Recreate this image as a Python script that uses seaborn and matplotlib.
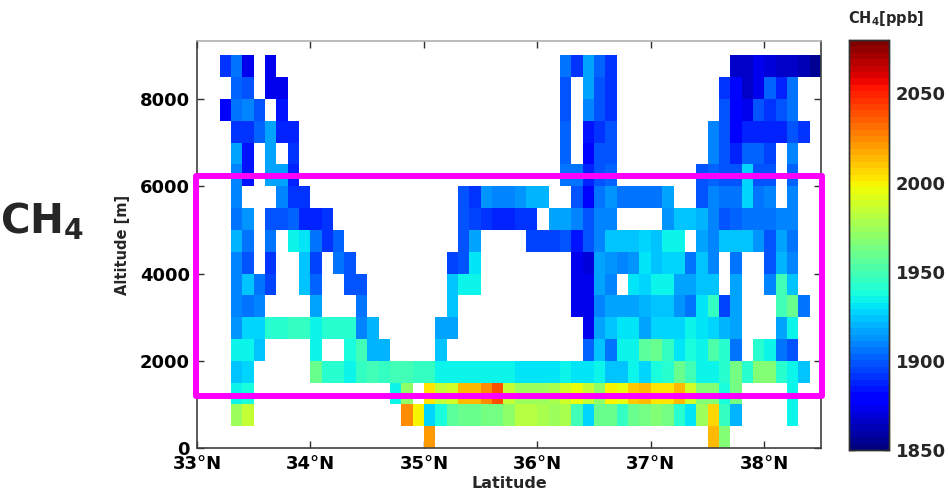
import numpy as np
import pandas as pd
import matplotlib
matplotlib.use("Agg")
import matplotlib.pyplot as plt
from matplotlib.patches import Rectangle
import seaborn as sns

N = np.nan


def row(start_lat, values):
    # pad one altitude bin out to the full 33.0-38.4 latitude range
    first = int(round((start_lat - 33.0) * 10))
    return [N] * first + values + [N] * (55 - first - len(values))


# CH4 in ppb, one list per 500 m altitude bin
ch4_8500 = row(33.2, [1892, 1904, 1875, N, 1875, N, N, N, N, N, N, N, N, N, N, N, N, N, N, N, N, N, N, N, N, N, N, N, N, N,
                      1904, 1890, 1916, 1901, 1893, N, N, N, N, N, N, N, N, N, N, 1866, 1865, 1874, 1869, 1866, 1866, 1863, 1857])
ch4_8000 = row(33.3, [1901, 1897, N, 1875, 1875, N, N, N, N, N, N, N, N, N, N, N, N, N, N, N, N, N, N, N, N, N, N, N, N,
                      1900, N, 1915, 1897, 1890, N, N, N, N, N, N, N, N, N, 1890, 1881, 1866, 1875, 1903, 1889, 1904])
ch4_7500 = row(33.2, [1878, 1904, 1908, 1898, N, 1884, N, N, N, N, N, N, N, N, N, N, N, N, N, N, N, N, N, N, N, N, N, N, N, N,
                      1897, N, 1910, 1897, 1892, N, N, N, N, N, N, N, N, N, 1900, 1876, 1875, 1897, 1890, 1898, 1904])
ch4_7000 = row(33.3, [1892, 1892, 1901, 1916, 1888, 1888, N, N, N, N, N, N, N, N, N, N, N, N, N, N, N, N, N, N, N, N, N, N, N,
                      1901, N, 1884, 1892, 1899, N, N, N, N, N, N, N, N, 1908, 1899, 1878, 1886, 1886, 1889, 1889, 1899, 1891])
ch4_6500 = row(33.3, [1916, 1885, N, 1916, N, 1890, N, N, N, N, N, N, N, N, N, N, N, N, N, N, N, N, N, N, N, N, N, N, N,
                      1901, N, 1881, 1899, 1899, N, N, N, N, N, N, N, N, 1911, 1897, 1886, 1901, 1901, 1895, N, 1908])
ch4_6000 = row(33.3, [1910, 1885, N, 1916, 1916, 1888, N, N, N, N, N, N, N, N, N, N, N, N, N, N, N, N, N, N, N, N, N, N, N,
                      1904, 1904, 1889, 1897, 1903, N, N, N, N, N, N, N, 1899, 1902, 1899, 1899, 1928, 1899, 1899, N, 1903])
ch4_5500 = row(33.3, [1908, N, N, N, 1908, 1892, 1892, N, N, N, N, N, N, N, N, N, N, N, N, N, 1899, 1893, 1913, 1909, 1909, 1913, 1919, 1919, N, N,
                      1900, 1881, 1905, 1912, 1907, 1907, 1907, 1907, 1915, N, N, 1899, 1908, 1905, 1905, 1927, 1904, 1910, N, 1908])
ch4_5000 = row(33.3, [1906, 1912, N, 1897, 1897, 1901, 1889, 1889, 1890, N, N, N, N, N, N, N, N, N, N, N, 1899, 1895, 1892, 1888, 1888, 1892, 1890, N, 1918, 1915,
                      1911, 1899, 1910, 1910, N, N, N, N, 1913, 1923, 1923, 1919, 1908, 1898, 1901, 1904, 1904, 1904, 1911, 1908])
ch4_4500 = row(33.3, [1919, 1904, N, 1904, N, 1936, 1932, 1905, 1892, 1901, N, N, N, N, N, N, N, N, N, N, 1900, 1915, N, N, N, N, 1896, 1896, 1896, 1899,
                      1885, 1900, 1910, 1923, 1924, 1924, 1927, 1924, 1933, 1936, N, 1916, 1910, 1922, 1922, 1922, 1913, 1898, 1915, 1907])
ch4_4000 = row(33.3, [1910, 1898, N, 1890, N, N, 1925, 1895, N, 1904, 1898, N, N, N, N, N, N, N, N, 1895, 1899, 1930, N, N, N, N, N, N, N, N,
                      1875, 1871, 1917, 1913, 1910, 1912, 1932, 1922, 1926, 1926, 1904, 1925, 1911, N, 1904, N, N, 1897, 1920, 1911])
ch4_3500 = row(33.3, [1908, 1925, 1904, 1895, N, N, 1925, 1903, N, N, 1897, 1897, N, N, N, N, N, N, N, 1925, 1935, 1935, N, N, N, N, N, N, N, N,
                      1875, 1875, 1918, 1910, N, 1930, 1926, 1936, 1936, 1918, 1915, 1923, 1923, N, 1915, N, N, 1910, 1950, 1925])
ch4_3000 = row(33.3, [1908, 1906, 1910, N, N, N, N, 1917, N, N, N, 1907, N, N, N, N, N, N, N, 1923, N, N, N, N, N, N, N, N, N, N,
                      1875, 1875, 1911, 1917, 1918, 1918, 1920, 1923, 1923, 1913, 1904, 1930, 1946, 1894, 1916, N, N, N, 1950, 1960, 1904])
ch4_2500 = row(33.3, [1912, 1928, 1928, 1940, 1940, 1944, 1944, 1935, 1942, 1940, 1940, 1910, 1919, N, N, N, N, N, 1917, 1917, N, N, N, N, N, N, N, N, N, N,
                      N, 1875, 1918, 1925, 1932, 1932, 1915, 1929, 1926, 1926, 1936, 1931, 1927, 1919, 1916, N, N, N, 1917, 1933])
ch4_2000 = row(33.3, [1933, 1933, 1925, N, N, N, N, 1933, N, N, 1938, 1950, 1920, 1920, N, N, N, N, 1925, N, N, N, N, N, N, N, N, N, N, N,
                      N, 1903, 1922, 1907, 1935, 1934, 1955, 1958, 1945, 1931, 1938, 1936, 1952, 1940, 1907, N, 1942, 1933, 1906, 1897])
ch4_1500 = row(33.3, [1925, 1927, N, N, N, N, N, 1958, 1940, 1940, 1934, 1944, 1950, 1945, 1950, 1950, 1947, 1947, 1935, 1933, 1935, 1935, 1935, 1935, 1933, 1930, 1930, 1930, 1930, 1933,
                      1931, 1931, 1933, 1923, 1925, 1934, 1926, 1938, 1940, 1958, 1950, 1933, 1933, 1940, 1962, 1940, 1965, 1965, 1942, 1935, 1923])
ch4_1000 = row(33.3, [1933, 1938, N, N, N, N, N, N, N, N, N, N, N, N, 1933, 1972, N, 2003, 1985, 1988, 2012, 2012, 2023, 2040, 1985, 1975, 1975, 1975, 1978, 1988,
                      1997, 1985, 1969, 1998, 1997, 2010, 2012, 2003, 2003, 2015, 1990, 1968, 1968, 1938, 1964, N, N, N, N, 1933])
ch4_0500 = row(33.3, [1975, 1985, N, N, N, N, N, N, N, N, N, N, N, N, N, 2025, 2000, 1928, 1937, 1955, 1961, 1961, 1964, 1964, 1972, 1981, 1981, 1978, 1974, 1978,
                      1950, 1926, 1961, 1961, 1945, 1958, 1964, 1968, 1964, 1940, 1931, 1975, 2006, 1945, 1919, N, N, N, N, 1933])
ch4_0000 = row(35.0, [2020, N, N, N, N, N, N, N, N, N, N, N, N, N, N, N, N, N, N, N, N, N, N, N, N, 2015, 1968])

ch4_rows = [ch4_0000, ch4_0500, ch4_1000, ch4_1500, ch4_2000, ch4_2500, ch4_3000, ch4_3500, ch4_4000,
            ch4_4500, ch4_5000, ch4_5500, ch4_6000, ch4_6500, ch4_7000, ch4_7500, ch4_8000, ch4_8500]
altitude_bins = np.arange(0, 9000, 500)
lat_bins = np.round(np.arange(33.0, 38.5, 0.1), 1)

lat_ticks = [33, 34, 35, 36, 37, 38]
alt_ticks = [0, 2000, 4000, 6000, 8000]
cbar_ticks = [1850, 1900, 1950, 2000, 2050]

W, H = 949, 498

sns.set_theme(style="white")
plt.rcParams.update(
    {
        "font.family": "DejaVu Sans",
        "font.weight": "bold",
        "mathtext.fontset": "custom",
        "mathtext.bf": "DejaVu Sans:bold",
        "axes.edgecolor": "#404040",
    }
)


def fig_box(x0, y0, x1, y1):
    # pixel box (y down) to figure fractions
    return [x0 / W, 1 - y1 / H, (x1 - x0) / W, (y1 - y0) / H]


fig = plt.figure(figsize=(W / 100, H / 100), dpi=100)
ax = fig.add_axes(fig_box(197, 41, 821, 448))
cax = fig.add_axes(fig_box(849, 40, 889, 450))

df = pd.DataFrame(ch4_rows, index=altitude_bins, columns=lat_bins)
sns.heatmap(
    df,
    ax=ax,
    cbar_ax=cax,
    cmap=plt.get_cmap("jet", 64),
    vmin=1850,
    vmax=2080,
    xticklabels=False,
    yticklabels=False,
    cbar_kws={"ticks": cbar_ticks},
)

# heatmap works in cell units, so map the axis ticks onto them
ax.set_xlim(0, len(lat_bins))
ax.set_ylim(0, 9330 / 500)
ax.set_xticks([(t - 33) * 10 for t in lat_ticks])
ax.set_xticklabels([f"{t}°N" for t in lat_ticks], fontsize=13, fontweight="bold", color="black")
ax.set_yticks([t / 500 for t in alt_ticks])
ax.set_yticklabels([str(t) for t in alt_ticks], fontsize=13, fontweight="bold", color="black")
ax.tick_params(axis="both", direction="in", length=5, width=1, color="#303030",
               left=True, right=True, top=True, bottom=True, pad=5)
ax.set_xlabel("Latitude", fontsize=11.5, fontweight="bold", labelpad=2)
ax.set_ylabel("Altitude [m]", fontsize=10.5, fontweight="bold", labelpad=7)
for side in ax.spines.values():
    side.set_visible(True)
    side.set_linewidth(1.2)
ax.spines["top"].set_color("#b0b0b0")

cax.tick_params(axis="y", direction="in", length=4, width=1, color="black",
                left=True, right=True, labelsize=13, pad=5)
for label in cax.get_yticklabels():
    label.set_fontweight("bold")
for side in cax.spines.values():
    side.set_visible(True)
    side.set_linewidth(1.0)
    side.set_color("#303030")

fig.text(886 / W, 1 - 18 / H, r"CH$_{\mathbf{4}}$[ppb]", ha="center", va="center", fontsize=10.5, fontweight="bold")
fig.text(0, 1 - 222 / H, r"CH$_{\mathbf{4}}$", ha="left", va="center", fontsize=29, fontweight="bold",
         math_fontfamily="custom")

# magenta box marking the boundary layer window
fig.add_artist(
    Rectangle((196 / W, 1 - 396 / H), (822 - 196) / W, (396 - 176) / H, transform=fig.transFigure,
              fill=False, edgecolor="#ff00ff", linewidth=4.3, joinstyle="round")
)

fig.savefig("out.png", dpi=100)
